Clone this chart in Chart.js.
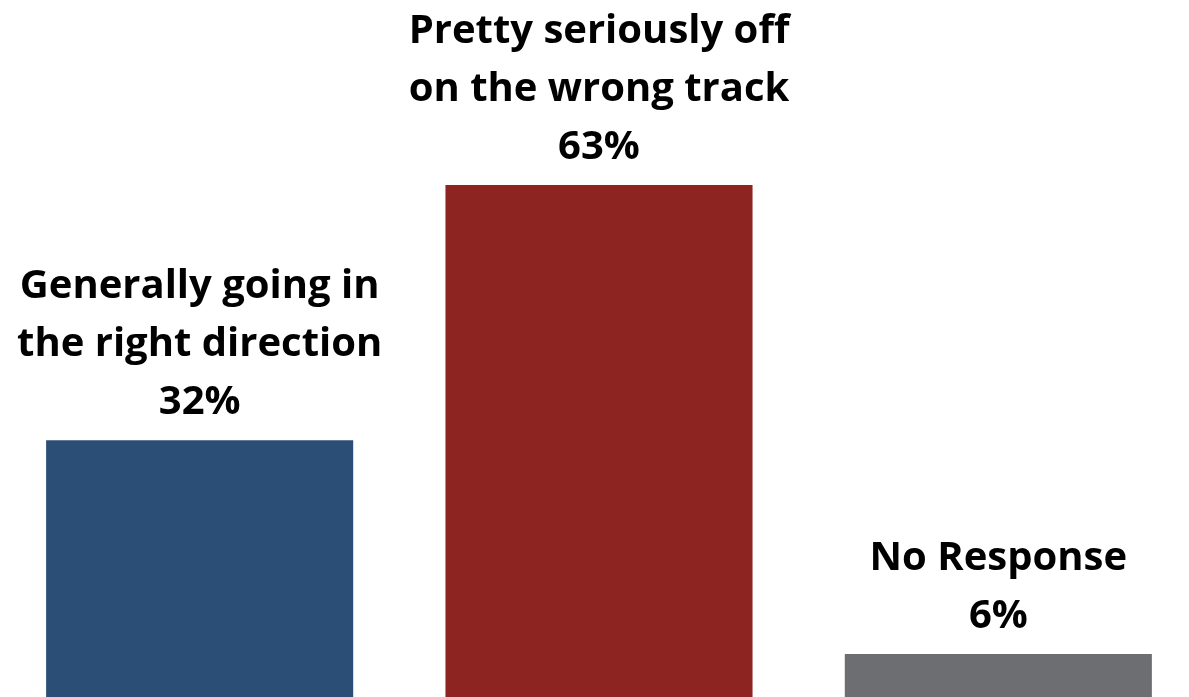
<!DOCTYPE html>
<html>
<head>
<meta charset="utf-8">
<script src="https://cdn.jsdelivr.net/npm/chart.js@4/dist/chart.umd.min.js"></script>
<style>
  html, body { margin: 0; padding: 0; background: #fff; overflow: hidden; }
  #wrap { width: 1198px; height: 697px; }
</style>
</head>
<body>
<div id="wrap"><canvas id="barChart" width="1198" height="697"></canvas></div>
<script>
const categories = [
  ['Generally going in', 'the right direction'],
  ['Pretty seriously off', 'on the wrong track'],
  ['No Response']
];
// bar heights; labels show the rounded figures
const values = [31.6, 63, 5.3];
const valueLabels = ['32%', '63%', '6%'];
const barColors = ['#2a4e75', '#8d2422', '#6d6e72'];

// draws the category name + percentage above each bar
const topLabels = {
  id: 'topLabels',
  afterDatasetsDraw(chart) {
    const ctx = chart.ctx;
    const meta = chart.getDatasetMeta(0);
    ctx.save();
    ctx.fillStyle = '#000';
    ctx.font = 'bold 40px "Open Sans"';
    ctx.textAlign = 'center';
    ctx.textBaseline = 'alphabetic';
    meta.data.forEach((bar, i) => {
      const lines = categories[i].concat([valueLabels[i]]);
      let y = bar.y - 26;
      for (let j = lines.length - 1; j >= 0; j--) {
        ctx.fillText(lines[j], bar.x, y);
        y -= 58;
      }
    });
    ctx.restore();
  }
};

var ctx = document.getElementById('barChart').getContext('2d');
var barChart = new Chart(ctx, {
  type: 'bar',
  data: {
    labels: categories,
    datasets: [{
      data: values,
      backgroundColor: barColors,
      barPercentage: 0.769,
      categoryPercentage: 1
    }]
  },
  options: {
    responsive: false,
    animation: false,
    layout: { padding: 0 },
    plugins: { legend: { display: false }, tooltip: { enabled: false } },
    scales: {
      x: { display: false },
      y: { display: false, min: 0, max: 85.76 }
    }
  },
  plugins: [topLabels]
});
</script>
</body>
</html>
